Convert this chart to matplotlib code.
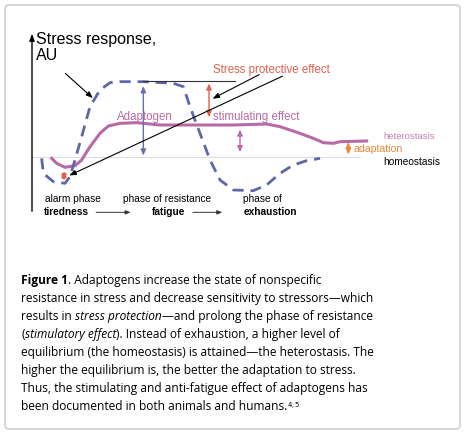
import matplotlib
matplotlib.use("Agg")
import matplotlib.pyplot as plt
from matplotlib.patches import FancyBboxPatch

# diagram curves in zoom-grid units (x, y); converted below
dash_x = [65,70,100,135,150,165,185,210,240,270,300,370,460,490,510,540,570,600,640,700,740,780,820,860,900]
dash_y = [415,460,485,490,470,420,350,260,210,188,185,185,190,200,260,340,420,480,510,512,495,460,435,422,415]
sol_x = [95,110,135,165,185,210,240,265,300,350,420,530,640,740,780,840,880,910,940,960,1040]
sol_y = [415,430,442,437,420,380,340,318,310,308,315,315,315,312,320,340,355,368,370,365,363]

def X(v): return 20 + v/3
def Y(v): return 20 + v/3

fig = plt.figure(figsize=(4.65,4.34), dpi=100)
ax = fig.add_axes([0,0,1,1])
ax.set_xlim(0,465); ax.set_ylim(434,0); ax.axis('off')
ax.add_patch(FancyBboxPatch((5,5),455,424,boxstyle="round,pad=0,rounding_size=4",fc='white',ec='#c8c8c8',lw=1))

F = 'Liberation Sans'
# axis
ax.annotate('', xy=(32,31), xytext=(32,214), arrowprops=dict(arrowstyle='-|>,head_width=0.15,head_length=0.4',color='black',lw=1))
ax.plot([32,360],[Y(410)]*2,color='#dddddd',lw=0.8)
ax.plot([X(v) for v in sol_x],[Y(v) for v in sol_y],color='#b86aa6',lw=2.2)
ax.plot([X(v) for v in dash_x],[Y(v) for v in dash_y],color='#5c68a8',lw=2,ls=(0,(4,2.5)))
ax.plot([X(370),X(645)],[Y(182)]*2,color='#333333',lw=0.8)

def darrow(zx,y0,y1,c):
    ax.annotate('',xy=(X(zx),Y(y0)),xytext=(X(zx),Y(y1)),arrowprops=dict(arrowstyle='<|-|>,head_width=0.15,head_length=0.35',color=c,lw=1))
darrow(370,190,415,'#6670b0')
darrow(567,182,300,'#e0604a')
darrow(660,320,405,'#b86aa6')
darrow(985,358,412,'#e8883a')
darrow(132,445,490,'#e0604a')

def ptr(x0,y0,x1,y1):
    ax.annotate('',xy=(X(x1),Y(y1)),xytext=(X(x0),Y(y0)),arrowprops=dict(arrowstyle='-|>,head_width=0.15,head_length=0.4',color='black',lw=0.8))
ptr(130,155,225,240); ptr(725,160,570,240); ptr(795,165,140,470)

ax.text(36,60,'Stress response,\nAU',fontsize=11.5,family=F,va='baseline',linespacing=1.1)
ax.text(X(580),Y(160),'Stress protective effect',fontsize=8.3,family=F,color='#e0604a')
ax.text(X(290),Y(300),'Adaptogen',fontsize=8.3,family=F,color='#b86aa6')
ax.text(X(580),Y(300),'stimulating effect',fontsize=8.3,family=F,color='#b86aa6')
ax.text(X(1090),Y(357),'heterostasis',fontsize=6.8,family=F,color='#c87ab5')
ax.text(X(1000),Y(397),'adaptation',fontsize=7.6,family=F,color='#e8883a')
ax.text(X(1090),Y(435),'homeostasis',fontsize=7.3,family=F,color='black')
for zx,t1 in [(75,'alarm phase'),(308,'phase of resistance'),(670,'phase of')]:
    ax.text(X(zx),Y(545),t1,fontsize=7.3,family=F)
ax.text(X(72),Y(585),'tiredness',fontsize=7.3,family=F,weight='bold')
ax.text(X(397),Y(585),'fatigue',fontsize=7.3,family=F,weight='bold')
ax.text(X(670),Y(585),'exhaustion',fontsize=7.3,family=F,weight='bold')
for a,b in [(220,340),(510,615)]:
    ax.annotate('',xy=(X(b),Y(577)),xytext=(X(a),Y(577)),arrowprops=dict(arrowstyle='-|>,head_width=0.12,head_length=0.3',color='#333333',lw=0.7))

# caption
C = 'Open Sans'; fs = 8.6
lines = [
 [('Figure 1','bold','normal'),('. Adaptogens increase the state of nonspecific','normal','normal')],
 [('resistance in stress and decrease sensitivity to stressors—which','normal','normal')],
 [('results in ','normal','normal'),('stress protection','normal','italic'),('—and prolong the phase of resistance','normal','normal')],
 [('(','normal','normal'),('stimulatory effect','normal','italic'),('). Instead of exhaustion, a higher level of','normal','normal')],
 [('equilibrium (the homeostasis) is attained—the heterostasis. The','normal','normal')],
 [('higher the equilibrium is, the better the adaptation to stress.','normal','normal')],
 [('Thus, the stimulating and anti-fatigue effect of adaptogens has','normal','normal')],
 [('been documented in both animals and humans.','normal','normal'),('$^{4,5}$','normal','normal')],
]
fig.canvas.draw()
r = fig.canvas.get_renderer()
y = 284
for ln in lines:
    x = 21
    for s,w,st in ln:
        t = ax.text(x,y,s,fontsize=fs if not s.startswith('$') else 7,family=C,weight=w,style=st,va='baseline')
        bb = t.get_window_extent(r)
        x += bb.width
    y += 18
fig.savefig('out.png',dpi=100)
